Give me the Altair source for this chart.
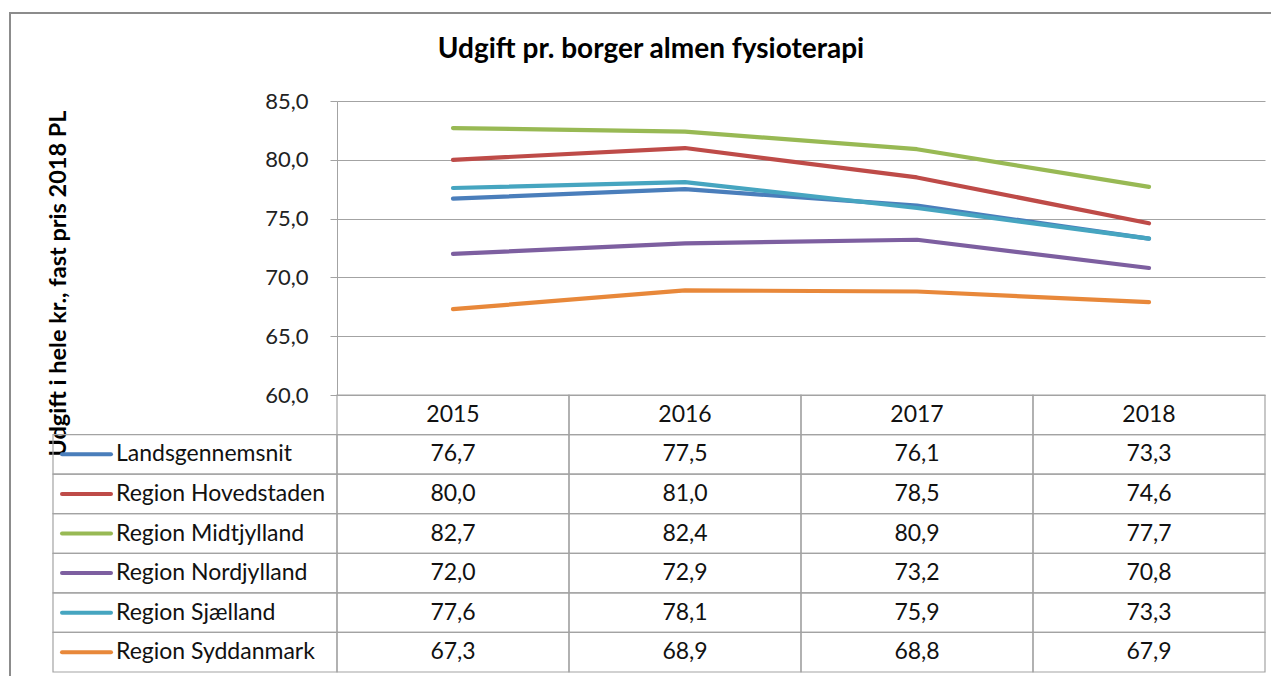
import altair as alt
import pandas as pd

years = ["2015", "2016", "2017", "2018"]
series = [
    "Landsgennemsnit",
    "Region Hovedstaden",
    "Region Midtjylland",
    "Region Nordjylland",
    "Region Sjælland",
    "Region Syddanmark",
]
landsgennemsnit = [76.7, 77.5, 76.1, 73.3]
hovedstaden = [80.0, 81.0, 78.5, 74.6]
midtjylland = [82.7, 82.4, 80.9, 77.7]
nordjylland = [72.0, 72.9, 73.2, 70.8]
sjaelland = [77.6, 78.1, 75.9, 73.3]
syddanmark = [67.3, 68.9, 68.8, 67.9]
colors = ["#4a7ebb", "#be4b48", "#98b954", "#7d5fa0", "#46a5c0", "#e8883a"]

title = "Udgift pr. borger almen fysioterapi"
y_title = "Udgift i hele kr., fast pris 2018 PL"

all_vals = [landsgennemsnit, hovedstaden, midtjylland, nordjylland, sjaelland, syddanmark]
rows = []
for s, vals in zip(series, all_vals):
    for y, v in zip(years, vals):
        rows.append({"series": s, "year": y, "value": v,
                     "label": f"{v:.1f}".replace(".", ",")})
df = pd.DataFrame(rows)
header_df = pd.DataFrame({"year": years, "row": ["header"] * 4})
legend_df = pd.DataFrame({"series": series})
frame_df = pd.DataFrame({"t": [title]})

row_domain = ["header"] + series
FONT = "Lato"
GRID = "#a3a3a3"

W, H = 928, 571
PLOT_H = 294

xs = alt.Scale(type="band", domain=years, paddingInner=0, paddingOuter=0)
rs = alt.Scale(type="band", domain=row_domain, range=[PLOT_H, H], paddingInner=0, paddingOuter=0)
cs = alt.Scale(domain=series, range=colors)

lines = alt.Chart(df).mark_line(strokeWidth=4.2, strokeCap="round", strokeJoin="round").encode(
    x=alt.X("year:O", bandPosition=0.5, scale=xs, axis=None),
    y=alt.Y("value:Q",
            scale=alt.Scale(domain=[60, 85], range=[PLOT_H, 0], nice=False, zero=False),
            axis=alt.Axis(values=[60, 65, 70, 75, 80, 85],
                          labelExpr="replace(format(datum.value, '.1f'), '.', ',')",
                          title=y_title, titleFont=FONT, titleFontSize=23.5, titleFontWeight="bold",
                          titleColor="#000", titleAngle=270, titleAlign="center", titleBaseline="middle",
                          titleX=-279, titleY=182,
                          labelFont=FONT, labelFontSize=22, labelColor="#222", labelPadding=22,
                          tickSize=7, tickColor=GRID, domainColor=GRID, gridColor=GRID,
                          grid=True, gridWidth=1)),
    color=alt.Color("series:N", scale=cs, legend=None),
    order=alt.Order("series:N"),
)

cells = alt.Chart(df).mark_rect(fill="white", fillOpacity=0, stroke=GRID, strokeWidth=1.2).encode(
    x=alt.X("year:O", scale=xs, axis=None),
    y=alt.Y("series:N", scale=rs, axis=None),
)
header_cells = alt.Chart(header_df).mark_rect(fill="white", fillOpacity=0, stroke=GRID, strokeWidth=1.2).encode(
    x=alt.X("year:O", scale=xs, axis=None),
    y=alt.Y("row:N", scale=rs, axis=None),
)
legend_cells = alt.Chart(legend_df).mark_rect(fill="white", fillOpacity=0, stroke=GRID, strokeWidth=1.2).encode(
    x=alt.value(-284), x2=alt.value(0),
    y=alt.Y("series:N", scale=rs, axis=None),
)
cell_text = alt.Chart(df).mark_text(font=FONT, fontSize=23, color="#111", baseline="middle").encode(
    x=alt.X("year:O", bandPosition=0.5, scale=xs, axis=None),
    y=alt.Y("series:N", bandPosition=0.5, scale=rs, axis=None),
    text="label:N",
)
header_text = alt.Chart(header_df).mark_text(font=FONT, fontSize=23, color="#111", baseline="middle").encode(
    x=alt.X("year:O", bandPosition=0.5, scale=xs, axis=None),
    y=alt.Y("row:N", bandPosition=0.5, scale=rs, axis=None),
    text="year:N",
)
legend_swatch = alt.Chart(legend_df).mark_rule(strokeWidth=4, strokeCap="round").encode(
    x=alt.value(-275), x2=alt.value(-226),
    y=alt.Y("series:N", bandPosition=0.5, scale=rs, axis=None),
    color=alt.Color("series:N", scale=cs, legend=None),
)
legend_text = alt.Chart(legend_df).mark_text(font=FONT, fontSize=23, color="#111", align="left", baseline="middle").encode(
    x=alt.value(-221),
    y=alt.Y("series:N", bandPosition=0.5, scale=rs, axis=None),
    text="series:N",
)
frame = alt.Chart(frame_df).mark_rect(fillOpacity=0, fill="white", stroke="#8c8c8c", strokeWidth=2).encode(
    x=alt.value(-327), y=alt.value(-88), x2=alt.value(1100), y2=alt.value(800),
)
title_text = alt.Chart(frame_df).mark_text(font=FONT, fontSize=28, fontWeight="bold", color="#000",
                                            baseline="middle", align="center").encode(
    x=alt.value(314), y=alt.value(-51), text="t:N",
)

table = alt.layer(cells, header_cells, legend_cells, cell_text, header_text, legend_swatch, legend_text)

chart = alt.layer(frame, title_text, lines, table).resolve_scale(y="independent").properties(
    width=W, height=H,
    autosize=alt.AutoSizeParams(type="none"),
    padding={"left": 329, "top": 93, "right": 6, "bottom": 4},
).configure_view(stroke=None)

chart.save("out.html", embed_options={"renderer": "svg", "actions": False})
